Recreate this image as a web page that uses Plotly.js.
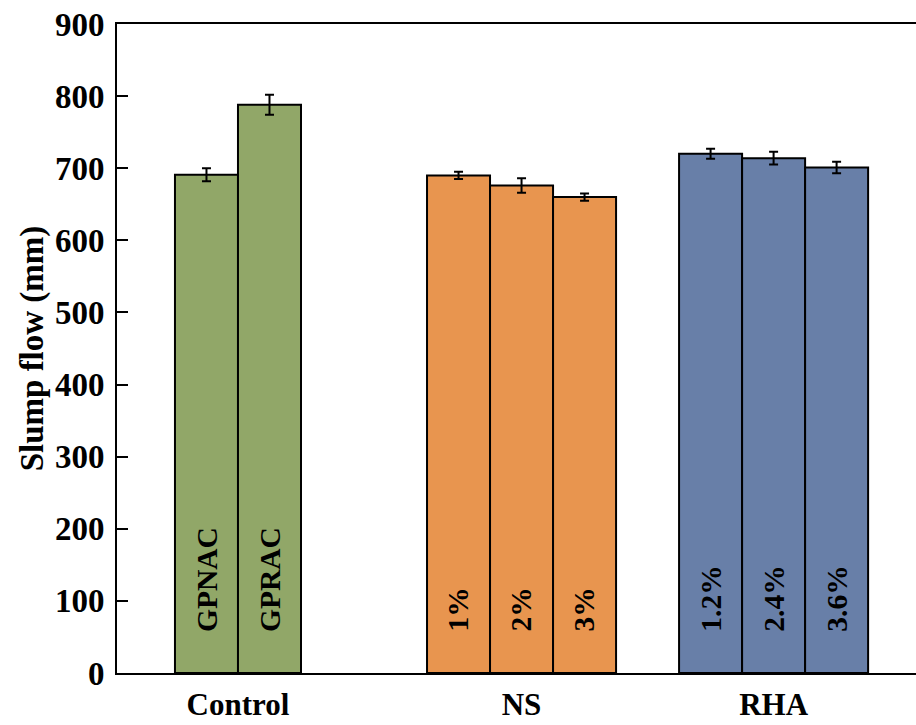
<!DOCTYPE html>
<html>
<head>
<meta charset="utf-8">
<script src="https://cdn.plot.ly/plotly-3.0.1.min.js"></script>
<style>html,body{margin:0;padding:0;overflow:hidden;background:#fff}#chart{width:916px;height:725px}</style>
</head>
<body>
<div id="chart"></div>
<script>
// ---- data ----
const groups = ['Control', 'NS', 'RHA'];
const controlLabels = ['GPNAC', 'GPRAC'];
const controlValues = [691, 788];
const controlErrors = [9, 14];
const nsLabels = ['1%', '2%', '3%'];
const nsValues = [690, 676, 660];
const nsErrors = [5, 10, 5];
const rhaLabels = ['1.2%', '2.4%', '3.6%'];
const rhaValues = [720, 714, 701];
const rhaErrors = [7, 9, 8];
const yTicks = [0, 100, 200, 300, 400, 500, 600, 700, 800, 900];

// ---- layout helpers ----
const groupStart = [1, 5, 9];
const colors = ['#91A768', '#E8954F', '#687FA8'];
const seriesLabels = [controlLabels, nsLabels, rhaLabels];
const seriesValues = [controlValues, nsValues, rhaValues];
const seriesErrors = [controlErrors, nsErrors, rhaErrors];
const FONT = '"Liberation Serif", "Times New Roman", serif';

const traces = [];
const annotations = [];
const groupCenters = [];
groups.forEach((g, gi) => {
  const xs = seriesValues[gi].map((_, i) => groupStart[gi] + i);
  groupCenters.push(groupStart[gi] + (xs.length - 1) / 2);
  traces.push({
    type: 'bar',
    name: g,
    x: xs,
    y: seriesValues[gi],
    width: xs.map(() => 1),
    marker: {color: colors[gi], line: {color: '#000', width: 2}},
    error_y: {type: 'data', array: seriesErrors[gi], visible: true, color: '#000', thickness: 2, width: 4.5},
    hoverinfo: 'x+y'
  });
  xs.forEach((x, i) => {
    annotations.push({
      x: x, y: 54, xref: 'x', yref: 'y',
      text: '<b>' + seriesLabels[gi][i] + '</b>',
      showarrow: false, textangle: -90,
      xanchor: 'center', yanchor: 'bottom',
      font: {family: FONT, size: 29.5, color: '#000'}
    });
  });
});

const layout = {
  width: 916, height: 725,
  margin: {l: 117, r: 0, t: 24, b: 52},
  paper_bgcolor: '#fff', plot_bgcolor: '#fff',
  showlegend: false,
  barmode: 'overlay',
  font: {family: FONT, color: '#000'},
  xaxis: {
    range: [-0.42, 12.26],
    tickvals: groupCenters,
    ticktext: groups.map(g => '<b>' + g + '</b>'),
    ticks: '', showgrid: false, zeroline: false,
    showline: true, linecolor: '#000', linewidth: 2, mirror: true,
    tickfont: {family: FONT, size: 31, color: '#000'},
    ticklabelstandoff: 3
  },
  yaxis: {
    range: [0, 900],
    tickvals: yTicks,
    ticktext: yTicks.map(v => '<b>' + v + '</b>'),
    ticks: 'inside', ticklen: 11, tickwidth: 2, tickcolor: '#000',
    showgrid: false, zeroline: false,
    showline: true, linecolor: '#000', linewidth: 2,
    tickfont: {family: FONT, size: 33, color: '#000'},
    ticklabelstandoff: 4,
    title: {text: '<b>Slump flow (mm)</b>', font: {family: FONT, size: 33, color: '#000'}, standoff: 1}
  },
  annotations: annotations
};

Plotly.newPlot('chart', traces, layout, {displayModeBar: false, staticPlot: true});
</script>
</body>
</html>
